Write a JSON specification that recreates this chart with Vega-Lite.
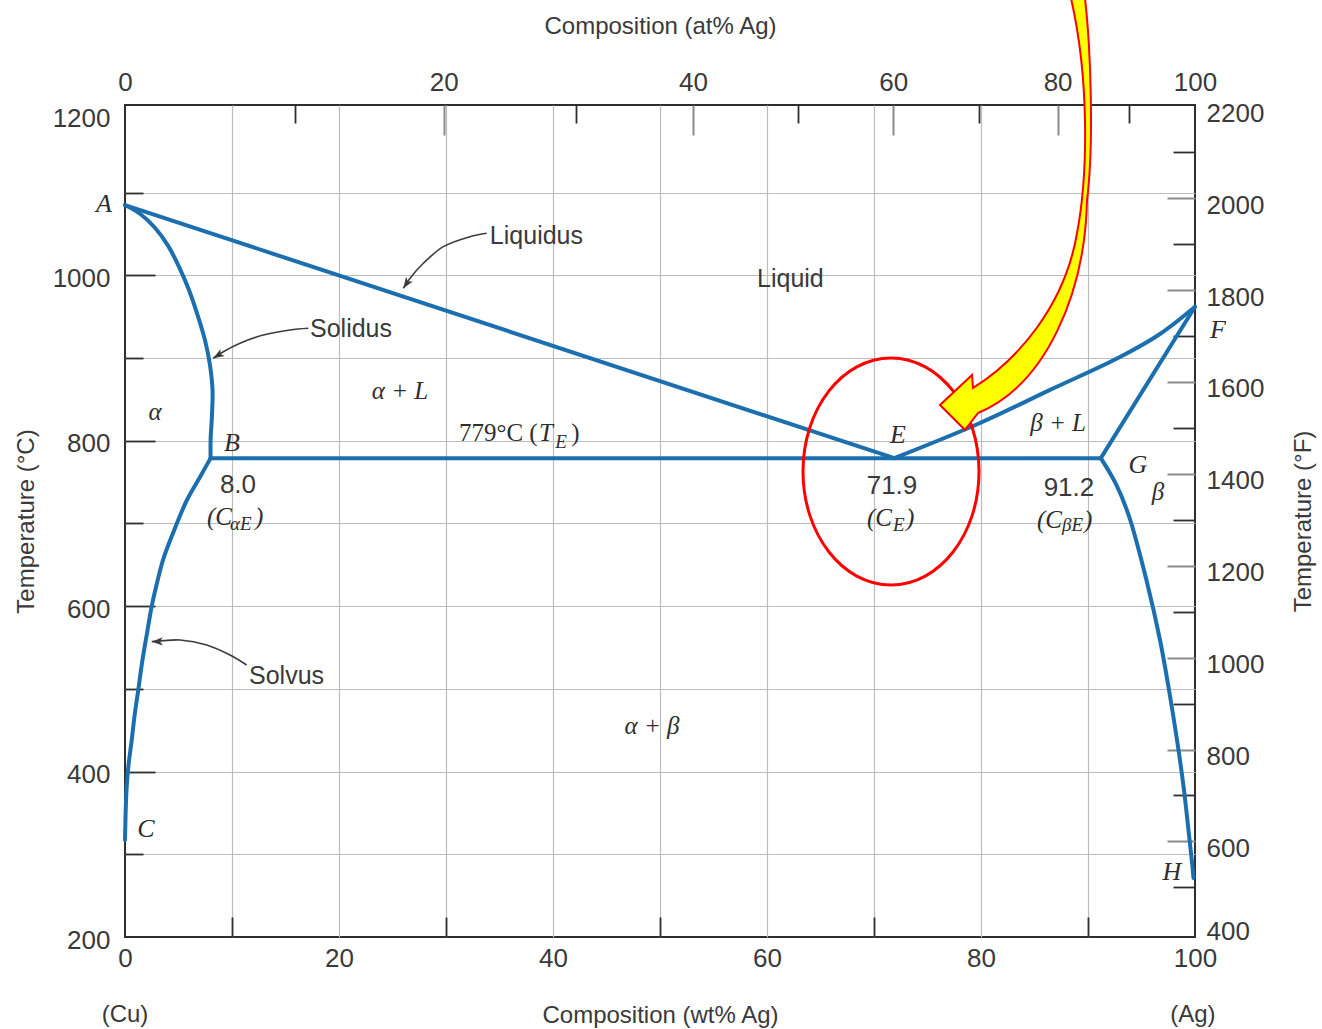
{
  "$schema": "https://vega.github.io/schema/vega-lite/v6.json",
  "width": 1070,
  "height": 832,
  "autosize": {"type": "none"},
  "padding": {"left": 125, "top": 105, "right": 127, "bottom": 92},
  "background": "white",
  "config": {
    "view": {"stroke": "#2e2e2e", "strokeWidth": 2},
    "axis": {
      "domain": false, "grid": false,
      "labelFont": "Liberation Sans", "labelFontSize": 26, "labelColor": "#3a3a3a",
      "titleFont": "Liberation Sans", "titleFontSize": 24, "titleFontWeight": "normal", "titleColor": "#3a3a3a",
      "tickColor": "#2e2e2e", "tickWidth": 1.8,
      "labelOverlap": false, "labelFlush": false, "labelBound": false, "format": "d"
    }
  },
  "datasets": {
    "curves": [
      {"c": "liqL", "i": 0, "w": 0, "T": 1085}, {"c": "liqL", "i": 1, "w": 71.9, "T": 779},
      {"c": "solL", "i": 0, "w": 0, "T": 1085}, {"c": "solL", "i": 1, "w": 1.4, "T": 1074.5},
      {"c": "solL", "i": 2, "w": 2.8, "T": 1057.6}, {"c": "solL", "i": 3, "w": 4.02, "T": 1035.9},
      {"c": "solL", "i": 4, "w": 5.05, "T": 1010.4}, {"c": "solL", "i": 5, "w": 5.98, "T": 982.3},
      {"c": "solL", "i": 6, "w": 6.82, "T": 950.4}, {"c": "solL", "i": 7, "w": 7.48, "T": 921.4},
      {"c": "solL", "i": 8, "w": 7.94, "T": 891.7}, {"c": "solL", "i": 9, "w": 8.18, "T": 861.4},
      {"c": "solL", "i": 10, "w": 8.13, "T": 831.2}, {"c": "solL", "i": 11, "w": 8.0, "T": 801.0},
      {"c": "solL", "i": 12, "w": 8.0, "T": 779},
      {"c": "svL", "i": 0, "w": 8.0, "T": 779}, {"c": "svL", "i": 1, "w": 7.01, "T": 756.2},
      {"c": "svL", "i": 2, "w": 5.79, "T": 728.4}, {"c": "svL", "i": 3, "w": 4.49, "T": 688.5},
      {"c": "svL", "i": 4, "w": 3.55, "T": 655.8}, {"c": "svL", "i": 5, "w": 2.99, "T": 628.1},
      {"c": "svL", "i": 6, "w": 2.5, "T": 600.2}, {"c": "svL", "i": 7, "w": 2.06, "T": 567.6},
      {"c": "svL", "i": 8, "w": 1.59, "T": 531.3}, {"c": "svL", "i": 9, "w": 1.24, "T": 498.7},
      {"c": "svL", "i": 10, "w": 0.89, "T": 467.2}, {"c": "svL", "i": 11, "w": 0.63, "T": 438.2},
      {"c": "svL", "i": 12, "w": 0.33, "T": 408}, {"c": "svL", "i": 13, "w": 0.14, "T": 377.8},
      {"c": "svL", "i": 14, "w": 0, "T": 317.3},
      {"c": "eut", "i": 0, "w": 8.0, "T": 779}, {"c": "eut", "i": 1, "w": 91.2, "T": 779},
      {"c": "liqR", "i": 0, "w": 71.9, "T": 779}, {"c": "liqR", "i": 1, "w": 79.91, "T": 821.5},
      {"c": "liqR", "i": 2, "w": 86.45, "T": 861.5}, {"c": "liqR", "i": 3, "w": 92.99, "T": 901.3},
      {"c": "liqR", "i": 4, "w": 96.73, "T": 929.1}, {"c": "liqR", "i": 5, "w": 100, "T": 962},
      {"c": "solR", "i": 0, "w": 91.2, "T": 779}, {"c": "solR", "i": 1, "w": 100, "T": 962},
      {"c": "svR", "i": 0, "w": 91.2, "T": 779}, {"c": "svR", "i": 1, "w": 92.62, "T": 747.5},
      {"c": "svR", "i": 2, "w": 93.83, "T": 708.8}, {"c": "svR", "i": 3, "w": 95.51, "T": 629.0},
      {"c": "svR", "i": 4, "w": 96.73, "T": 559.1}, {"c": "svR", "i": 5, "w": 97.57, "T": 498.7},
      {"c": "svR", "i": 6, "w": 98.32, "T": 438.2}, {"c": "svR", "i": 7, "w": 98.97, "T": 377.8},
      {"c": "svR", "i": 8, "w": 99.44, "T": 323.3}, {"c": "svR", "i": 9, "w": 99.72, "T": 290.7},
      {"c": "svR", "i": 10, "w": 99.86, "T": 271.3}
    ],
    "leaders": [
      {"c": "lq", "i": 0, "w": 33.8, "T": 1050.9}, {"c": "lq", "i": 1, "w": 32.24, "T": 1046.8},
      {"c": "lq", "i": 2, "w": 29.75, "T": 1034.7}, {"c": "lq", "i": 3, "w": 27.88, "T": 1014.6},
      {"c": "lq", "i": 4, "w": 26.64, "T": 996.5}, {"c": "lq", "i": 5, "w": 26.01, "T": 984.4},
      {"c": "sd", "i": 0, "w": 17.13, "T": 936.0}, {"c": "sd", "i": 1, "w": 15.42, "T": 934.0},
      {"c": "sd", "i": 2, "w": 12.93, "T": 927.9}, {"c": "sd", "i": 3, "w": 10.75, "T": 917.9},
      {"c": "sd", "i": 4, "w": 9.19, "T": 907.7}, {"c": "sd", "i": 5, "w": 8.25, "T": 899.8},
      {"c": "sv", "i": 0, "w": 11.37, "T": 528.9}, {"c": "sv", "i": 1, "w": 9.81, "T": 541.0},
      {"c": "sv", "i": 2, "w": 7.64, "T": 553.1}, {"c": "sv", "i": 3, "w": 5.14, "T": 559.1},
      {"c": "sv", "i": 4, "w": 3.58, "T": 558.3}, {"c": "sv", "i": 5, "w": 2.5, "T": 557.1}
    ],
    "labels": [
      {"kind": "curve", "t": "Liquidus", "w": 34.1, "T": 1047.6},
      {"kind": "curve", "t": "Solidus", "w": 17.29, "T": 935.2},
      {"kind": "curve", "t": "Solvus", "w": 11.59, "T": 515.6},
      {"kind": "curve", "t": "Liquid", "w": 59.07, "T": 995.6},
      {"kind": "pt", "t": "A", "w": -1.96, "T": 1086.3},
      {"kind": "pt", "t": "B", "w": 10.0, "T": 797.3},
      {"kind": "pt", "t": "C", "w": 1.96, "T": 330.6},
      {"kind": "pt", "t": "E", "w": 72.24, "T": 807},
      {"kind": "pt", "t": "F", "w": 102.15, "T": 934},
      {"kind": "pt", "t": "G", "w": 94.67, "T": 770.7},
      {"kind": "pt", "t": "H", "w": 97.85, "T": 278.6},
      {"kind": "phase", "t": "α", "w": 2.8, "T": 834.8},
      {"kind": "phase", "t": "α  + L", "w": 25.7, "T": 860.2},
      {"kind": "phase", "t": "β + L", "w": 87.2, "T": 821.5},
      {"kind": "phase", "t": "β", "w": 96.54, "T": 738.1},
      {"kind": "phase", "t": "α + β", "w": 49.25, "T": 455.1},
      {"kind": "num", "t": "8.0", "w": 10.56, "T": 746.5},
      {"kind": "num", "t": "71.9", "w": 71.68, "T": 745.3},
      {"kind": "num", "t": "91.2", "w": 88.22, "T": 742.9},
      {"kind": "sym", "t": "(C", "w": 7.66, "T": 707.9},
      {"kind": "sym", "t": ")", "w": 12.15, "T": 707.9},
      {"kind": "sym", "t": "(C", "w": 69.35, "T": 706.7},
      {"kind": "sym", "t": ")", "w": 72.99, "T": 706.7},
      {"kind": "sym", "t": "(C", "w": 85.23, "T": 704.2},
      {"kind": "sym", "t": ")", "w": 89.63, "T": 704.2},
      {"kind": "sym", "t": "T", "w": 38.7, "T": 809.4},
      {"kind": "sub", "t": "αE", "w": 9.81, "T": 699.4},
      {"kind": "sub", "t": "E", "w": 71.78, "T": 698.2},
      {"kind": "sub", "t": "βE", "w": 87.57, "T": 698.2},
      {"kind": "sub", "t": "E", "w": 40.2, "T": 798.9},
      {"kind": "temp", "t": "779°C (", "w": 31.21, "T": 809.4},
      {"kind": "temp", "t": ")", "w": 41.7, "T": 809.4},
      {"kind": "end", "t": "(Cu)", "w": 0, "T": 105.7},
      {"kind": "end", "t": "(Ag)", "w": 99.8, "T": 105.7}
    ]
  },
  "resolve": {
    "scale": {"x": "independent", "y": "independent"},
    "axis": {"x": "independent", "y": "independent"}
  },
  "layer": [
    {
      "data": {"name": "curves"},
      "mark": {"type": "line", "interpolate": "catmull-rom", "stroke": "#1b6fae", "strokeWidth": 4, "strokeCap": "round", "strokeJoin": "round"},
      "encoding": {
        "x": {"field": "w", "type": "quantitative", "scale": {"domain": [0, 100], "nice": false, "zero": false},
              "axis": {"orient": "bottom", "values": [0, 20, 40, 60, 80, 100], "ticks": false, "labelPadding": 8,
                       "title": "Composition (wt% Ag)", "titlePadding": 32}},
        "y": {"field": "T", "type": "quantitative", "scale": {"domain": [200, 1206], "nice": false, "zero": false},
              "axis": {"orient": "left", "values": [200, 400, 600, 800, 1000, 1200], "ticks": false, "labelPadding": 15,
                       "labelOffset": {"condition": {"test": "datum.value == 1200", "value": 9}, "value": 3},
                       "title": "Temperature (°C)", "titlePadding": 14}},
        "detail": {"field": "c"},
        "order": {"field": "i", "type": "quantitative"}
      }
    },
    {
      "data": {"name": "leaders"},
      "mark": {"type": "line", "interpolate": "catmull-rom", "stroke": "#3c3c3c", "strokeWidth": 1.6},
      "encoding": {
        "x": {"field": "w", "type": "quantitative", "scale": {"domain": [0, 100], "nice": false, "zero": false},
              "axis": {"orient": "bottom", "values": [10, 20, 30, 40, 50, 60, 70, 80, 90], "grid": true, "gridColor": "#bcbcbc", "gridWidth": 1.2,
                       "ticks": false, "labels": false, "title": null}},
        "y": {"field": "T", "type": "quantitative", "scale": {"domain": [200, 1206], "nice": false, "zero": false},
              "axis": {"orient": "left", "values": [300, 400, 500, 600, 700, 800, 900, 1000, 1100], "grid": true, "gridColor": "#bcbcbc", "gridWidth": 1.2,
                       "ticks": false, "labels": false, "title": null}},
        "detail": {"field": "c"},
        "order": {"field": "i", "type": "quantitative"}
      }
    },
    {
      "data": {"values": [{"w": 26.01, "T": 984.4}]},
      "mark": {"type": "point", "shape": "M0,0L-2,-0.75L-1.5,0L-2,0.75Z", "size": 121, "angle": 124, "filled": true, "fill": "#3c3c3c", "opacity": 1},
      "encoding": {
        "x": {"field": "w", "type": "quantitative", "scale": {"domain": [0, 100], "nice": false, "zero": false}, "axis": null},
        "y": {"field": "T", "type": "quantitative", "scale": {"domain": [200, 1206], "nice": false, "zero": false}, "axis": null}
      }
    },
    {
      "data": {"values": [{"w": 8.25, "T": 899.8}]},
      "mark": {"type": "point", "shape": "M0,0L-2,-0.75L-1.5,0L-2,0.75Z", "size": 121, "angle": 149, "filled": true, "fill": "#3c3c3c", "opacity": 1},
      "encoding": {
        "x": {"field": "w", "type": "quantitative", "scale": {"domain": [0, 100], "nice": false, "zero": false}, "axis": null},
        "y": {"field": "T", "type": "quantitative", "scale": {"domain": [200, 1206], "nice": false, "zero": false}, "axis": null}
      }
    },
    {
      "data": {"values": [{"w": 2.5, "T": 557.1}]},
      "mark": {"type": "point", "shape": "M0,0L-2,-0.75L-1.5,0L-2,0.75Z", "size": 121, "angle": 178, "filled": true, "fill": "#3c3c3c", "opacity": 1},
      "encoding": {
        "x": {"field": "w", "type": "quantitative", "scale": {"domain": [0, 100], "nice": false, "zero": false}, "axis": null},
        "y": {"field": "T", "type": "quantitative", "scale": {"domain": [200, 1206], "nice": false, "zero": false}, "axis": null}
      }
    },
    {
      "data": {"name": "labels"},
      "transform": [{"filter": "datum.kind == 'curve'"}],
      "mark": {"type": "text", "font": "Liberation Sans", "fontSize": 25, "align": "left", "baseline": "middle", "color": "#3a3a3a"},
      "encoding": {
        "x": {"field": "w", "type": "quantitative", "scale": {"domain": [0, 100], "nice": false, "zero": false},
              "axis": {"orient": "bottom", "values": [10, 30, 50, 70, 90], "tickSize": -20, "labels": false, "title": null}},
        "y": {"field": "T", "type": "quantitative", "scale": {"domain": [200, 1206], "nice": false, "zero": false},
              "axis": {"orient": "left", "values": [400, 600, 800, 1000], "tickSize": -30, "labels": false, "title": null}},
        "text": {"field": "t"}
      }
    },
    {
      "data": {"name": "labels"},
      "transform": [{"filter": "datum.kind == 'pt'"}],
      "mark": {"type": "text", "font": "Liberation Serif", "fontStyle": "italic", "fontSize": 26, "align": "center", "baseline": "middle", "color": "#2e2e2e"},
      "encoding": {
        "x": {"field": "w", "type": "quantitative", "scale": {"domain": [0, 100], "nice": false, "zero": false},
              "axis": {"orient": "top", "values": [0, 29.79, 53.09, 71.8, 87.16, 100], "ticks": false, "labelPadding": 10,
                       "labelExpr": "format(100*(datum.value/107.87)/(datum.value/107.87+(100-datum.value)/63.55),'.0f')",
                       "title": "Composition (at% Ag)", "titlePadding": 31}},
        "y": {"field": "T", "type": "quantitative", "scale": {"domain": [200, 1206], "nice": false, "zero": false},
              "axis": {"orient": "left", "values": [300, 500, 700, 900, 1100], "tickSize": -18, "labels": false, "title": null}},
        "text": {"field": "t"}
      }
    },
    {
      "data": {"name": "labels"},
      "transform": [{"filter": "datum.kind == 'phase'"}],
      "mark": {"type": "text", "font": "Liberation Serif", "fontStyle": "italic", "fontSize": 25, "align": "center", "baseline": "middle", "color": "#2e2e2e"},
      "encoding": {
        "x": {"field": "w", "type": "quantitative", "scale": {"domain": [0, 100], "nice": false, "zero": false},
              "axis": {"orient": "top", "values": [29.79, 53.09, 71.8, 87.16], "tickSize": -30, "tickColor": "#8a8a8a", "tickWidth": 2, "labels": false, "title": null}},
        "y": {"field": "T", "type": "quantitative", "scale": {"domain": [200, 1206], "nice": false, "zero": false},
              "axis": {"orient": "right", "values": [204.444, 315.556, 426.667, 537.778, 648.889, 760, 871.111, 982.222, 1093.333, 1204.444],
                       "ticks": false, "labelPadding": 11,
                       "labelOffset": {"condition": {"test": "datum.value < 210", "value": -2}, "value": 7},
                       "labelExpr": "format(datum.value*9/5+32,'.0f')",
                       "title": "Temperature (°F)", "titleAngle": 270, "titlePadding": 52}},
        "text": {"field": "t"}
      }
    },
    {
      "data": {"name": "labels"},
      "transform": [{"filter": "datum.kind == 'num'"}],
      "mark": {"type": "text", "font": "Liberation Sans", "fontSize": 26, "align": "center", "baseline": "middle", "color": "#3a3a3a"},
      "encoding": {
        "x": {"field": "w", "type": "quantitative", "scale": {"domain": [0, 100], "nice": false, "zero": false},
              "axis": {"orient": "top", "values": [15.87, 42.11, 62.93, 79.84, 93.86], "tickSize": -18, "labels": false, "title": null}},
        "y": {"field": "T", "type": "quantitative", "scale": {"domain": [200, 1206], "nice": false, "zero": false},
              "axis": {"orient": "right", "values": [315.556, 426.667, 537.778, 648.889, 760, 871.111, 982.222, 1093.333],
                       "tickSize": -28, "tickColor": "#8a8a8a", "tickWidth": 2, "labels": false, "title": null}},
        "text": {"field": "t"}
      }
    },
    {
      "data": {"name": "labels"},
      "transform": [{"filter": "datum.kind == 'sym'"}],
      "mark": {"type": "text", "font": "Liberation Serif", "fontStyle": "italic", "fontSize": 25, "align": "left", "baseline": "middle", "color": "#2e2e2e"},
      "encoding": {
        "x": {"field": "w", "type": "quantitative", "scale": {"domain": [0, 100], "nice": false, "zero": false}, "axis": null},
        "y": {"field": "T", "type": "quantitative", "scale": {"domain": [200, 1206], "nice": false, "zero": false},
              "axis": {"orient": "right", "values": [260, 371.111, 482.222, 593.333, 704.444, 815.556, 926.667, 1037.778, 1148.889],
                       "tickSize": -22, "labels": false, "title": null}},
        "text": {"field": "t"}
      }
    },
    {
      "data": {"name": "labels"},
      "transform": [{"filter": "datum.kind == 'sub'"}],
      "mark": {"type": "text", "font": "Liberation Serif", "fontStyle": "italic", "fontSize": 19, "align": "left", "baseline": "middle", "color": "#2e2e2e"},
      "encoding": {
        "x": {"field": "w", "type": "quantitative", "scale": {"domain": [0, 100], "nice": false, "zero": false}, "axis": null},
        "y": {"field": "T", "type": "quantitative", "scale": {"domain": [200, 1206], "nice": false, "zero": false}, "axis": null},
        "text": {"field": "t"}
      }
    },
    {
      "data": {"name": "labels"},
      "transform": [{"filter": "datum.kind == 'temp'"}],
      "mark": {"type": "text", "font": "Liberation Serif", "fontSize": 25, "align": "left", "baseline": "middle", "color": "#2e2e2e"},
      "encoding": {
        "x": {"field": "w", "type": "quantitative", "scale": {"domain": [0, 100], "nice": false, "zero": false}, "axis": null},
        "y": {"field": "T", "type": "quantitative", "scale": {"domain": [200, 1206], "nice": false, "zero": false}, "axis": null},
        "text": {"field": "t"}
      }
    },
    {
      "data": {"name": "labels"},
      "transform": [{"filter": "datum.kind == 'end'"}],
      "mark": {"type": "text", "font": "Liberation Sans", "fontSize": 24, "align": "center", "baseline": "middle", "color": "#3a3a3a"},
      "encoding": {
        "x": {"field": "w", "type": "quantitative", "scale": {"domain": [0, 100], "nice": false, "zero": false}, "axis": null},
        "y": {"field": "T", "type": "quantitative", "scale": {"domain": [200, 1206], "nice": false, "zero": false}, "axis": null},
        "text": {"field": "t"}
      }
    },
    {
      "data": {"values": [{"w": 71.59, "T": 762.9}]},
      "mark": {"type": "point", "shape": "M1,0C1,0.7125 0.5523,1.29 0,1.29C-0.5523,1.29 -1,0.7125 -1,0C-1,-0.7125 -0.5523,-1.29 0,-1.29C0.5523,-1.29 1,-0.7125 1,0Z",
               "size": 30976, "filled": false, "stroke": "#ff0000", "strokeWidth": 3, "opacity": 1},
      "encoding": {
        "x": {"field": "w", "type": "quantitative", "scale": {"domain": [0, 100], "nice": false, "zero": false}, "axis": null},
        "y": {"field": "T", "type": "quantitative", "scale": {"domain": [200, 1206], "nice": false, "zero": false}, "axis": null}
      }
    },
    {
      "data": {"values": [{"w": 76.17, "T": 843.3}]},
      "mark": {"type": "point",
               "shape": "M0,0L32,-30L33,-17C78,-45 125,-100 137,-172C148,-230 150,-330 129,-415L144,-415C151,-360 154,-260 147,-205C145,-110 105,-20 38,8L25,25Z",
               "size": 4, "filled": true, "fill": "#ffff00", "stroke": "#ff0000", "strokeWidth": 2, "strokeJoin": "miter", "opacity": 1},
      "encoding": {
        "x": {"field": "w", "type": "quantitative", "scale": {"domain": [0, 100], "nice": false, "zero": false}, "axis": null},
        "y": {"field": "T", "type": "quantitative", "scale": {"domain": [200, 1206], "nice": false, "zero": false}, "axis": null}
      }
    }
  ]
}
